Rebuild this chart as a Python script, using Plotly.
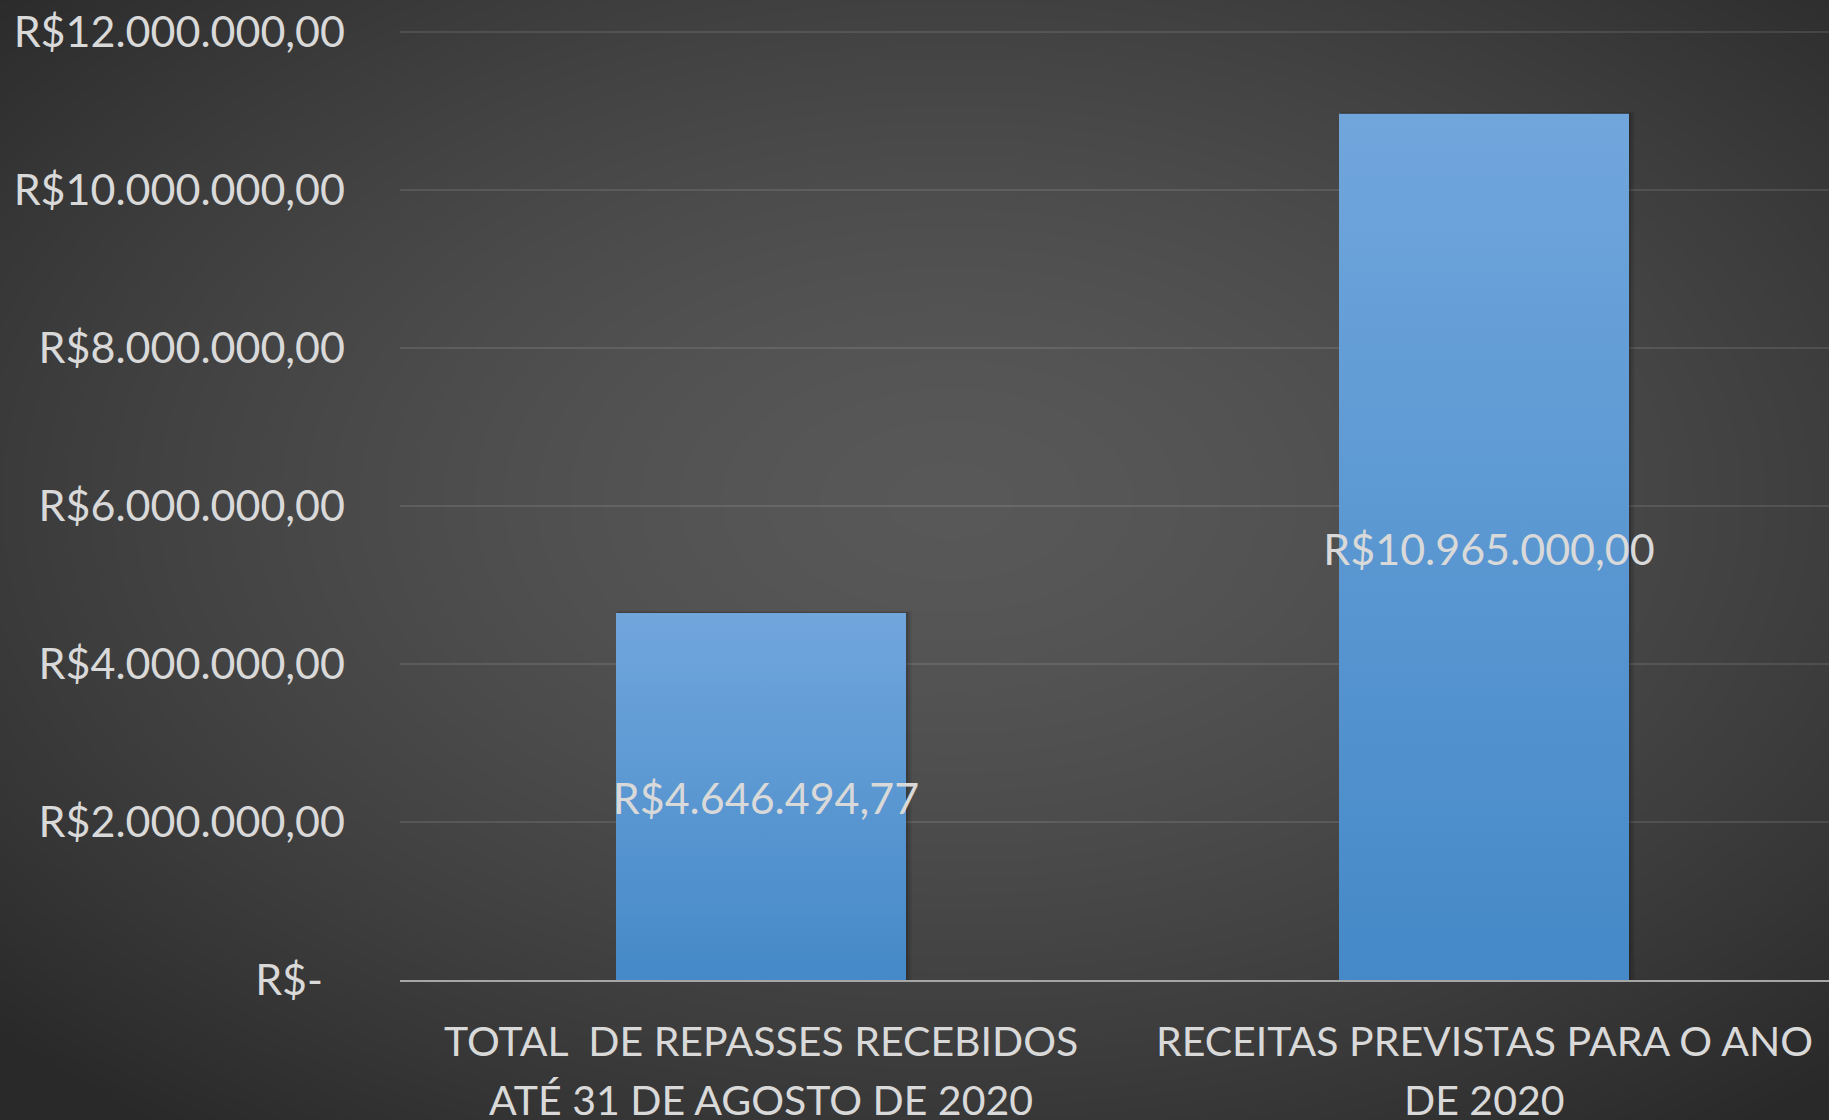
import base64
import struct
import zlib

import numpy as np
import plotly.graph_objects as go

# ---------------- data ----------------
categories = [
    "TOTAL\u00a0 DE REPASSES RECEBIDOS<br>ATÉ 31 DE AGOSTO DE 2020",
    "RECEITAS PREVISTAS PARA O ANO<br>DE 2020",
]
values = [4646494.77, 10965000.00]
value_labels = ["R$4.646.494,77", "R$10.965.000,00"]
y_tick_values = [0, 2000000, 4000000, 6000000, 8000000, 10000000, 12000000]
y_tick_labels = [
    "R$-\u00a0\u00a0",
    "R$2.000.000,00",
    "R$4.000.000,00",
    "R$6.000.000,00",
    "R$8.000.000,00",
    "R$10.000.000,00",
    "R$12.000.000,00",
]

# ---------------- layout geometry ----------------
W, H = 1829, 1120
ML, MR, MT, MB = 400, 0, 20, 140
plot_w = W - ML - MR
plot_h = H - MT - MB
px_per_cat = 723.0
x0 = -361.0 / px_per_cat
x1 = x0 + plot_w / px_per_cat
y_top = plot_h * 12000000 / 948.0
bar_half = 145.0 / px_per_cat
units_per_px_y = y_top / plot_h

TEXT = "#d9d9d9"
FONT = "Lato"
TICK_SIZE = 43
CAT_SIZE = 41


# ---------------- background (radial gradient PNG) ----------------
def make_png_gray(arr):
    h, w = arr.shape
    raw = b"".join(b"\x00" + arr[i].tobytes() for i in range(h))

    def chunk(tag, data):
        c = struct.pack(">I", len(data)) + tag + data
        return c + struct.pack(">I", zlib.crc32(tag + data) & 0xFFFFFFFF)

    png = b"\x89PNG\r\n\x1a\n"
    png += chunk(b"IHDR", struct.pack(">IIBBBBB", w, h, 8, 0, 0, 0, 0))
    png += chunk(b"IDAT", zlib.compress(raw, 9))
    png += chunk(b"IEND", b"")
    return png


yy, xx = np.mgrid[0:H, 0:W].astype(float)
r = np.sqrt(((xx - 950) / 915.0) ** 2 + ((yy - 500) / 560.0) ** 2) / np.sqrt(2)
bg = 88 - 47 * np.clip(r, 0, 1) ** 1.5
bg_img = np.clip(np.round(bg), 0, 255).astype(np.uint8)
bg_uri = "data:image/png;base64," + base64.b64encode(make_png_gray(bg_img)).decode()

fig = go.Figure()

# soft shadows + gradient bars
for i, v in enumerate(values):
    for k, a in [(6, 0.06), (4, 0.08), (2, 0.12)]:
        dx = k / px_per_cat
        dy = k * units_per_px_y
        fig.add_trace(go.Scatter(
            x=[i - bar_half + dx * 0.3, i + bar_half + dx, i + bar_half + dx,
               i - bar_half + dx * 0.3, i - bar_half + dx * 0.3],
            y=[0, 0, v + dy * 0.3, v + dy * 0.3, 0],
            mode="lines", fill="toself", line=dict(width=0),
            fillcolor=f"rgba(0,0,0,{a})", hoverinfo="skip", showlegend=False,
        ))
    fig.add_trace(go.Scatter(
        x=[i - bar_half, i + bar_half, i + bar_half, i - bar_half, i - bar_half],
        y=[0, 0, v, v, 0],
        mode="lines", fill="toself", line=dict(width=0),
        fillgradient=dict(type="vertical",
                          colorscale=[[0, "#4589c8"], [1, "#70a6dc"]]),
        hoverinfo="skip", showlegend=False,
    ))

# data labels (centered in the bars)
fig.add_trace(go.Scatter(
    x=[i + 5 / px_per_cat for i in range(len(values))],
    y=[v / 2 - 7 * units_per_px_y for v in values],
    mode="text",
    text=value_labels,
    textposition="middle center",
    textfont=dict(family=FONT, size=TICK_SIZE, color=TEXT),
    hoverinfo="skip", showlegend=False,
))

# category labels (two lines each, placed under the axis)
line_y_px = [1040, 1099]
annotations = []
for i, cat in enumerate(categories):
    for j, line in enumerate(cat.split("<br>")):
        annotations.append(dict(
            x=i, xref="x", y=(H - MB - line_y_px[j]) / plot_h, yref="paper",
            text=line, showarrow=False, xanchor="center", yanchor="middle",
            font=dict(family=FONT, size=CAT_SIZE, color=TEXT),
        ))

fig.update_layout(
    width=W, height=H,
    margin=dict(l=ML, r=MR, t=MT, b=MB, pad=0),
    paper_bgcolor="#2a2a2a",
    plot_bgcolor="rgba(0,0,0,0)",
    showlegend=False,
    annotations=annotations,
    images=[dict(
        source=bg_uri, xref="paper", yref="paper",
        x=-ML / plot_w, y=1 + MT / plot_h,
        sizex=W / plot_w, sizey=H / plot_h,
        xanchor="left", yanchor="top", sizing="stretch", layer="below",
    )],
    xaxis=dict(
        range=[x0, x1], showgrid=False, zeroline=False,
        tickmode="array", tickvals=list(range(len(categories))),
        showticklabels=False, ticks="",
        showline=True, linecolor="#a6a6a6", linewidth=2,
        fixedrange=True,
    ),
    yaxis=dict(
        range=[0, y_top], showgrid=True, gridcolor="rgba(255,255,255,0.10)",
        gridwidth=2, zeroline=False, showline=False,
        tickmode="array", tickvals=y_tick_values, ticktext=y_tick_labels,
        tickfont=dict(family=FONT, size=TICK_SIZE, color=TEXT),
        ticks="", ticklabelstandoff=54,
        fixedrange=True,
    ),
)

fig.write_html(
    "out.html",
    config={"displayModeBar": False},
    post_script="document.body.style.margin='0';document.body.style.overflow='hidden';",
)
